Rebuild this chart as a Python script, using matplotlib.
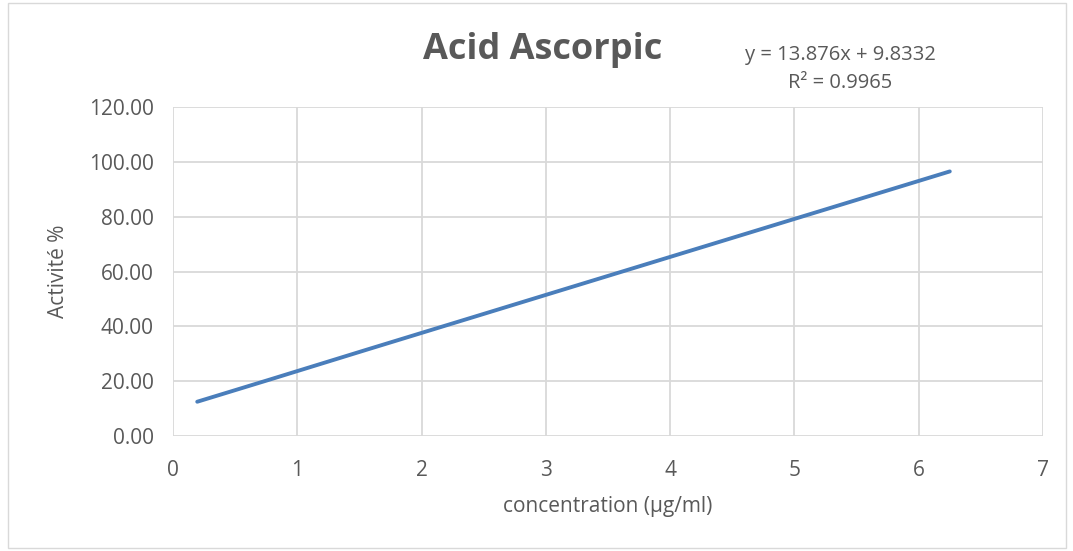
import matplotlib.pyplot as plt
from matplotlib.patches import Rectangle

# Ascorbic acid standard: concentration (µg/ml) vs activity (%)
concentration = [0.195, 0.39, 0.78, 1.56, 3.125, 6.25]
activity = [12.5, 15.2, 20.6, 31.5, 53.2, 96.5]

equation = "y = 13.876x + 9.8332"
r_squared = "R² = 0.9965"

plt.rcParams['font.family'] = ['Open Sans', 'DejaVu Sans']
text_color = '#595959'
grid_color = '#d9d9d9'

fig = plt.figure(figsize=(10.73, 5.51), dpi=100)
ax = fig.add_axes([173 / 1073, 1 - 436 / 551, 870 / 1073, 329 / 551])

ax.plot(concentration, activity, color='#4a7ebb', linewidth=2.8,
        solid_capstyle='round')

ax.set_xlim(0, 7)
ax.set_ylim(0, 120)
ax.set_xticks(range(0, 8))
ax.set_yticks(range(0, 121, 20))
ax.set_yticklabels([f"{v:.2f}" for v in range(0, 121, 20)])
ax.grid(True, color=grid_color, linewidth=1.3)
ax.set_axisbelow(True)
for side in ax.spines.values():
    side.set_visible(False)
ax.tick_params(length=0, colors=text_color, labelsize=15)
ax.tick_params(axis='y', pad=14)
ax.tick_params(axis='x', pad=17)

ax.set_xlabel("concentration (µg/ml)", color=text_color, fontsize=15, labelpad=11)
ax.set_ylabel("Activité %", color=text_color, fontsize=15, labelpad=14)

fig.text(543 / 1073, 1 - 50 / 551, "Acid Ascorpic", ha='center', va='center',
         fontsize=26, fontweight='bold', color=text_color)
fig.text(840 / 1073, 1 - 55 / 551, equation, ha='center', va='center',
         fontsize=14.5, color=text_color)
fig.text(840 / 1073, 1 - 83 / 551, r_squared, ha='center', va='center',
         fontsize=14.5, color=text_color)

# chart border
fig.patches.append(Rectangle((8 / 1073, 3 / 551), 1058 / 1073, 545 / 551,
                             transform=fig.transFigure, fill=False,
                             edgecolor=grid_color, linewidth=1))

fig.savefig('out.png', dpi=100)
